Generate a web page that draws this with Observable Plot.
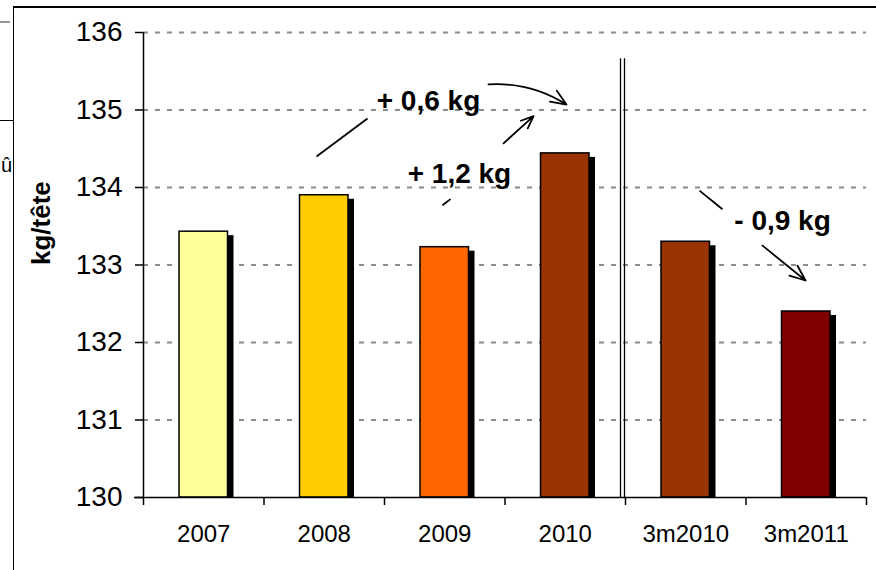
<!DOCTYPE html>
<html>
<head>
<meta charset="utf-8">
<script src="https://cdn.jsdelivr.net/npm/d3@7"></script>
<script src="https://cdn.jsdelivr.net/npm/@observablehq/plot@0.6"></script>
<style>
  html, body { margin: 0; padding: 0; background: #fff; }
  #wrap { position: relative; width: 876px; height: 570px; overflow: hidden; font-family: Arial, "Liberation Sans", sans-serif; }
  #chart { position: absolute; left: 0; top: 0; }
  .frame { position: absolute; left: 13px; top: 6px; right: -10px; bottom: -10px; border-left: 1.5px solid #000; border-top: 2.5px solid #000; pointer-events: none; }
  .bgline { position: absolute; left: 0; top: 120px; width: 13px; height: 0; border-top: 1.5px solid #000; }
  .bgdash { position: absolute; left: 0; top: 21px; width: 10px; height: 0; border-top: 2px dashed #969696; }
  .bgchar { position: absolute; left: 1px; top: 152px; font-size: 20px; line-height: 26px; }
</style>
</head>
<body>
<div id="wrap">
  <div class="bgline"></div>
  <div class="bgdash"></div>
  <div class="bgchar">û</div>
  <div id="chart"></div>
  <div class="frame"></div>
</div>
<script>
const categories = ["2007", "2008", "2009", "2010", "3m2010", "3m2011"];
const values = [133.43, 133.90, 133.23, 134.44, 133.30, 132.40];
const colors = ["#FFFF99", "#FFCC00", "#FF6600", "#993300", "#993300", "#800000"];
const yTicks = [130, 131, 132, 133, 134, 135, 136];
const yTitle = "kg/tête";

// annotations (data coordinates: category index, kg)
const noteLabels = ["+ 0,6 kg", "+ 1,2 kg", "- 0,9 kg"];
const noteX = [1.865, 2.122, 4.803];
const noteY = [135.12, 134.18, 133.57];
const leadX1 = [0.936, 1.981, 4.114];
const leadY1 = [134.40, 133.77, 133.96];
const leadX2 = [1.359, 2.048, 4.305];
const leadY2 = [134.89, 133.85, 133.72];
// curved arrow (+0,6 kg)
const curveX1 = [2.363];
const curveY1 = [135.33];
const curveX2 = [3.010];
const curveY2 = [135.07];
// straight arrows (+1,2 kg, -0,9 kg)
const arrowX1 = [2.488, 4.637];
const arrowY1 = [134.57, 133.25];
const arrowX2 = [2.737, 4.994];
const arrowY2 = [134.92, 132.80];
const separatorX = 3.5;
const separatorTop = 135.66;

const bars = categories.map((c, i) => ({i, cat: c, value: values[i], color: colors[i]}));
const notes = noteLabels.map((t, i) => ({t, x: noteX[i], y: noteY[i]}));
const leads = leadX1.map((_, i) => ({x1: leadX1[i], y1: leadY1[i], x2: leadX2[i], y2: leadY2[i]}));
const curves = curveX1.map((_, i) => ({x1: curveX1[i], y1: curveY1[i], x2: curveX2[i], y2: curveY2[i]}));
const arrows = arrowX1.map((_, i) => ({x1: arrowX1[i], y1: arrowY1[i], x2: arrowX2[i], y2: arrowY2[i]}));
const idx = d3.range(categories.length);
const bounds = d3.range(categories.length + 1).map(k => k - 0.5);

const chart = Plot.plot({
  width: 876,
  height: 570,
  marginTop: 32,
  marginRight: 10,
  marginBottom: 73,
  marginLeft: 143,
  style: {fontFamily: 'Arial, "Liberation Sans", sans-serif', color: "#000", background: "transparent"},
  x: {type: "linear", domain: [-0.5, categories.length - 0.5]},
  y: {domain: [130, 136]},
  marks: [
    Plot.ruleY(yTicks.slice(1), {stroke: "#8c8c8c", strokeWidth: 2, strokeDasharray: "5,7"}),
    // shadows
    Plot.rectY(bars, {x1: d => d.i - 0.5, x2: d => d.i + 0.5, y1: 130, y2: "value", insetLeft: 36, insetRight: 36, dx: 6, dy: 4, fill: "#000", clip: true}),
    // bars
    Plot.rectY(bars, {x1: d => d.i - 0.5, x2: d => d.i + 0.5, y1: 130, y2: "value", insetLeft: 36, insetRight: 36, fill: "color", stroke: "#000", strokeWidth: 1.5}),
    // separator double line
    Plot.ruleX([separatorX], {y1: 130, y2: separatorTop, dx: -5, stroke: "#000", strokeWidth: 1.3}),
    Plot.ruleX([separatorX], {y1: 130, y2: separatorTop, dx: -1, stroke: "#000", strokeWidth: 1.3}),
    // axes
    Plot.ruleX([-0.5], {y1: 130, y2: 136, stroke: "#000", strokeWidth: 1.5}),
    Plot.ruleY([130], {stroke: "#000", strokeWidth: 1.5, insetLeft: -9}),
    Plot.axisY({ticks: yTicks, tickSize: 8, tickPadding: 13, fontSize: 28, label: null, tickFormat: d => String(d), strokeWidth: 1.5}),
    Plot.axisX({ticks: bounds, tickSize: 8, tickFormat: () => "", label: null, strokeWidth: 1.5}),
    Plot.axisX({ticks: idx, tickSize: 0, tickPadding: 27, fontSize: 24, label: null, tickFormat: i => categories[i]}),
    // y title
    Plot.text([yTitle], {frameAnchor: "left", dx: -102, rotate: -90, fontSize: 26, fontWeight: "bold", fill: "#000"}),
    // annotations
    Plot.link(leads, {x1: "x1", y1: "y1", x2: "x2", y2: "y2", stroke: "#000", strokeWidth: 1.8}),
    Plot.arrow(curves, {x1: "x1", y1: "y1", x2: "x2", y2: "y2", bend: 18, stroke: "#000", strokeWidth: 1.8, headLength: 14, headAngle: 45}),
    Plot.arrow(arrows, {x1: "x1", y1: "y1", x2: "x2", y2: "y2", stroke: "#000", strokeWidth: 1.8, headLength: 14, headAngle: 45}),
    Plot.text(notes, {x: "x", y: "y", text: "t", fontSize: 28, fontWeight: "bold", fill: "#000", lineAnchor: "middle"})
  ]
});
document.getElementById("chart").appendChild(chart);
</script>
</body>
</html>
